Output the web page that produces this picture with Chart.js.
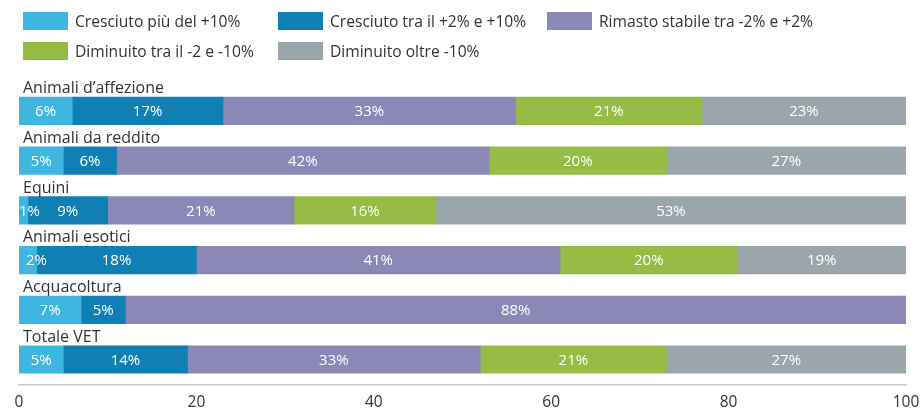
<!DOCTYPE html>
<html>
<head>
<meta charset="utf-8">
<script src="https://cdn.jsdelivr.net/npm/chart.js@4.4.1/dist/chart.umd.min.js"></script>
<style>
  body { margin: 0; background: #fff; }
  #wrap { position: relative; width: 921px; height: 412px; }
  #legend {
    position: absolute; left: 23px; top: 12px;
    display: grid; grid-template-columns: 255px 269px auto; row-gap: 12px;
    font-family: "Open Sans", sans-serif; font-size: 15.6px; color: #333;
  }
  .item { display: flex; align-items: center; height: 18px; white-space: nowrap; }
  .box { width: 45px; height: 18px; margin-right: 7px; }
  canvas { display: block; }
</style>
</head>
<body>
<div id="wrap">
  <div id="legend"></div>
  <canvas id="myChart" width="921" height="412"></canvas>
</div>
<script>
const categories = ["Animali d’affezione", "Animali da reddito", "Equini", "Animali esotici", "Acquacoltura", "Totale VET"];
const seriesNames = ["Cresciuto più del +10%", "Cresciuto tra il +2% e +10%", "Rimasto stabile tra -2% e +2%", "Diminuito tra il -2 e -10%", "Diminuito oltre -10%"];
const cresciutoPiu10 = [6, 5, 1, 2, 7, 5];
const cresciuto2e10 = [17, 6, 9, 18, 5, 14];
const stabile = [33, 42, 21, 41, 88, 33];
const diminuito2e10 = [21, 20, 16, 20, 0, 21];
const diminuitoOltre10 = [23, 27, 53, 19, 0, 27];
const xTicks = [0, 20, 40, 60, 80, 100];

const colors = ["#3EB6E0", "#1080B4", "#8B88B7", "#97BC45", "#9AA6AB"];
const values = [cresciutoPiu10, cresciuto2e10, stabile, diminuito2e10, diminuitoOltre10];
const FONT = "'Open Sans', sans-serif";

// legend laid out in fixed columns like the original
const legendEl = document.getElementById("legend");
[0, 1, 2, 3, 4].forEach((i) => {
  const d = document.createElement("div");
  d.className = "item";
  d.innerHTML = '<span class="box" style="background:' + colors[i] + '"></span>' + seriesNames[i];
  legendEl.appendChild(d);
});

const labelsPlugin = {
  id: "labelsPlugin",
  afterDatasetsDraw(chart) {
    const ctx = chart.ctx;
    ctx.save();
    // values inside segments
    ctx.font = "15px " + FONT;
    ctx.fillStyle = "#fff";
    ctx.textAlign = "center";
    ctx.textBaseline = "middle";
    chart.data.datasets.forEach((ds, i) => {
      chart.getDatasetMeta(i).data.forEach((bar, j) => {
        const v = ds.data[j];
        if (!v) return;
        const p = bar.getProps(["x", "y", "base"], true);
        const txt = v + "%";
        const w = ctx.measureText(txt).width;
        // keep tiny first segments' labels inside the plot
        const cx = Math.max((p.x + p.base) / 2, chart.chartArea.left + w / 2 + (v > 1 ? 7 : 0));
        ctx.fillText(txt, cx, p.y + 1);
      });
    });
    // category names above each bar
    ctx.font = "16px " + FONT;
    ctx.fillStyle = "#333";
    ctx.textAlign = "left";
    ctx.textBaseline = "alphabetic";
    chart.getDatasetMeta(0).data.forEach((bar, j) => {
      ctx.fillText(categories[j], chart.chartArea.left + 4, bar.y - bar.height / 2 - 4);
    });
    ctx.restore();
  }
};

const ctx = document.getElementById("myChart").getContext("2d");
new Chart(ctx, {
  type: "bar",
  data: {
    labels: categories,
    datasets: values.map((arr, i) => ({
      label: seriesNames[i],
      data: arr,
      backgroundColor: colors[i],
      borderWidth: 0,
      barThickness: 27.5
    }))
  },
  options: {
    indexAxis: "y",
    responsive: false,
    animation: false,
    layout: { padding: { left: 19, right: 15, top: 86, bottom: -9 } },
    plugins: { legend: { display: false }, tooltip: { enabled: false } },
    scales: {
      x: {
        stacked: true,
        min: 0,
        max: 100,
        afterBuildTicks: (axis) => { axis.ticks = xTicks.map((v) => ({ value: v })); },
        // let the "100" label run into the right margin like the original
        afterFit: (axis) => { axis.paddingRight = 0; axis.paddingLeft = 0; },
        grid: { display: false, drawTicks: false },
        border: { display: true, color: "#c8c8c8", width: 1.5 },
        ticks: { color: "#333", font: { family: FONT, size: 15.5 }, padding: 9, maxRotation: 0 }
      },
      y: {
        stacked: true,
        display: false
      }
    }
  },
  plugins: [labelsPlugin]
});
</script>
</body>
</html>
